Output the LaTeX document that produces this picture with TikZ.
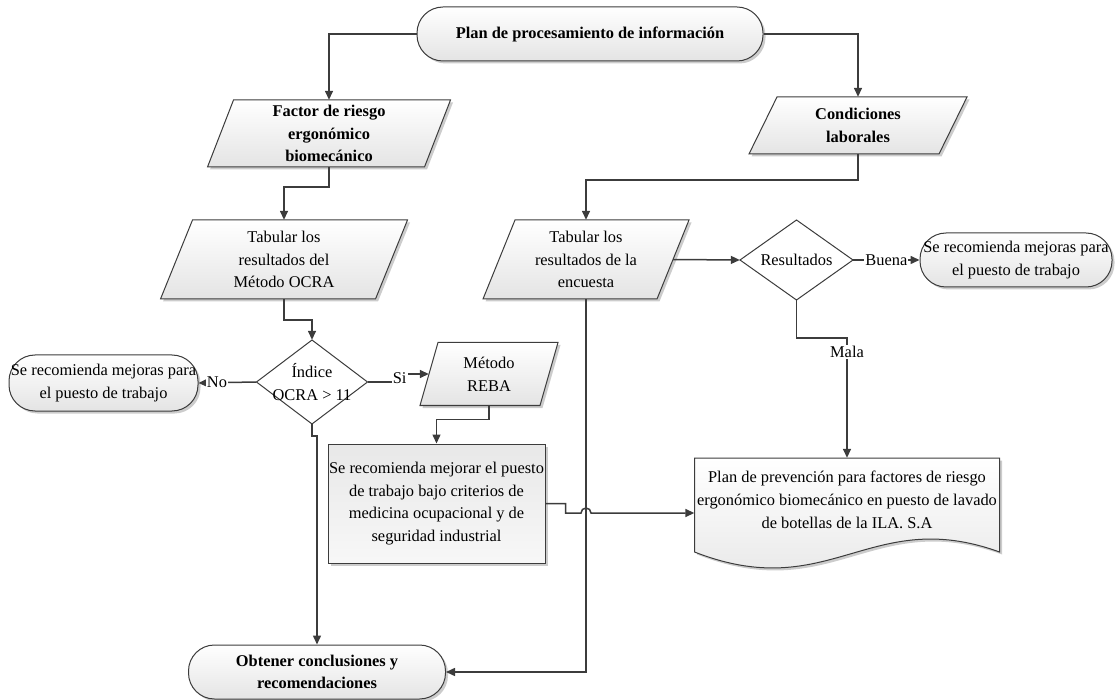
\documentclass[tikz,border=0pt]{standalone}
\usepackage{fontspec}
\setmainfont{Liberation Serif}
\usetikzlibrary{arrows.meta,shadows,calc}

\definecolor{ink}{HTML}{3C3C3C}
\definecolor{shade}{HTML}{E4E4E4}

\tikzset{
  base/.style={font=\fontsize{16.4}{22.7}\selectfont, align=center, inner sep=0pt},
  shadowed/.style={drop shadow={shadow xshift=2.5pt, shadow yshift=-2.5pt, fill=black, opacity=0.2}},
  boxline/.style={draw=ink, line width=1pt},
  gradfill/.style={top color=white, bottom color=shade},
  term/.style={base, boxline, gradfill, shadowed, rounded corners=26pt},
  conn/.style={draw=ink, line width=1.5pt},
  arr/.style={conn, -{Triangle[length=9pt, width=8pt]}},
  lbl/.style={base, fill=white, inner sep=1pt},
}

% parallelogram: name, cx, cy, side width, height, half slant, text
\newcommand\slantbox[7]{%
  \path[boxline, gradfill, shadowed]
    (#2-#4/2+#6, #3-#5/2) -- (#2+#4/2+#6, #3-#5/2) --
    (#2+#4/2-#6, #3+#5/2) -- (#2-#4/2-#6, #3+#5/2) -- cycle;
  \node[base, minimum width=#4pt, minimum height=#5pt] (#1) at (#2,#3) {#7};
}

% decision diamond: name, cx, cy, width, height, text
\newcommand\decision[6]{%
  \path[boxline, fill=white]
    (#2-#4/2, #3) -- (#2, #3-#5/2) -- (#2+#4/2, #3) -- (#2, #3+#5/2) -- cycle;
  \node[base, minimum width=#4pt, minimum height=#5pt] (#1) at (#2,#3) {#6};
}

\begin{document}
\begin{tikzpicture}[x=1pt, y=-1pt]
\useasboundingbox (0,0) rectangle (1119,700);

% terminators
\node[term, minimum width=346pt, minimum height=54pt] (top) at (590,34)
  {\bfseries Plan de procesamiento de información};
\node[term, minimum width=189pt, minimum height=56pt] (nol) at (103.5,383)
  {Se recomienda mejoras para\\el puesto de trabajo};
\node[term, minimum width=192pt, minimum height=54pt] (bue) at (1016,260)
  {Se recomienda mejoras para\\el puesto de trabajo};
\node[term, minimum width=257pt, minimum height=54pt] (obt) at (317,672)
  {\bfseries Obtener conclusiones y\\\bfseries recomendaciones};

% data boxes
\slantbox{fac}{329}{133.5}{217}{67}{13}{\bfseries Factor de riesgo\\\bfseries ergonómico\\\bfseries biomecánico}
\slantbox{con}{858}{125.5}{190}{57}{14}{\bfseries Condiciones\\\bfseries laborales}
\slantbox{ocr}{284}{259.5}{215}{79}{16}{Tabular los\\resultados del\\Método OCRA}
\slantbox{enc}{586}{259.5}{174}{79}{16}{Tabular los\\resultados de la\\encuesta}
\slantbox{reb}{489}{374}{120}{63}{9}{Método\\REBA}

% decisions
\decision{ind}{312}{382}{111}{84}{Índice\\OCRA > 11}
\decision{res}{796.5}{260}{113}{80}{Resultados}

% process box
\node[base, boxline, top color=black!9, bottom color=black!3, shadowed,
      minimum width=217pt, minimum height=119pt] (rec) at (436.5,503.5)
  {Se recomienda mejorar el puesto\\de trabajo bajo criterios de\\medicina ocupacional y de\\seguridad industrial};

% document shape with wavy bottom
\path[boxline, gradfill, shadowed]
  (694.5,458) -- (999.5,458) -- (999.5,552)
  .. controls (870,505) and (830,605) .. (694.5,552) -- cycle;
\node[base, minimum width=305pt, minimum height=110pt] (plan) at (847,513) {};
\node[base] (plantxt) at (847,500)
  {Plan de prevención para factores de riesgo\\ergonómico biomecánico en puesto de lavado\\de botellas de la ILA. S.A};

% connectors
\draw[arr] (top.west) -| (fac.north);
\draw[arr] (top.east) -| (con.north);
\draw[arr] (fac.south) -- ++(0,20) -| (ocr.north);
\draw[arr] (con.south) -- ++(0,26) -| (enc.north);
\draw[arr] (ocr.south) -- ++(0,21) -| (ind.north);
\draw[arr] (ind.west) -- node[lbl, pos=0.68] {No} (nol.east);
\draw[arr] (ind.east) -- ++(32,0) |- node[lbl, pos=0.25] {Si} (reb.west);
\draw[arr] (reb.south) -- ++(0,14) -| (rec.north);
\draw[arr] (ind.south) -- ++(0,12) -| (obt.north);
\draw[arr] (enc.south) |- (obt.east);
\draw[arr] (enc.east) -- (res.west);
\draw[arr] (res.east) -- node[lbl, pos=0.5] {Buena} (bue.west);
\draw[arr] (res.south) |- ($(plan.north)+(0,-120)$) -- node[lbl, pos=0.12] {Mala} (plan.north);
\draw[arr] (rec.east) -- ++(20,0) |- ($(enc.south |- plan.west)+(-5,0)$)
  arc[start angle=180, end angle=0, radius=5pt] -- (plan.west);

\end{tikzpicture}
\end{document}
